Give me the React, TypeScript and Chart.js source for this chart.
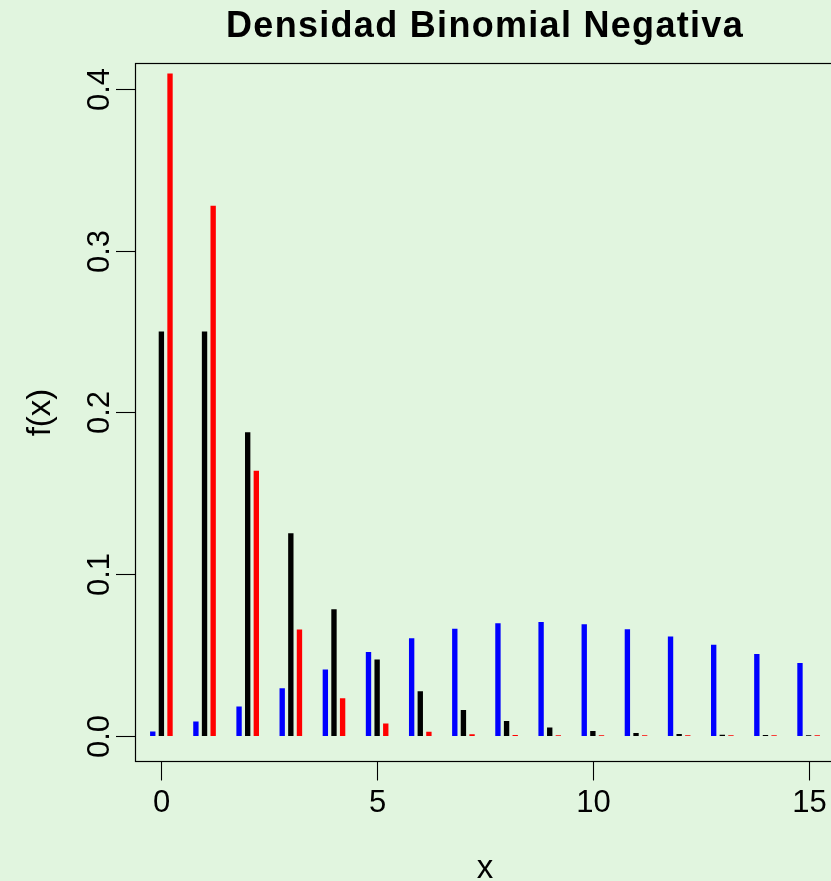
import React, { useEffect, useRef } from "react";
import { Chart, registerables } from "chart.js";

Chart.register(...registerables);

// Negative binomial probabilities f(x) for x = 0..15, three parameter sets
const xValues = [0, 1, 2, 3, 4, 5, 6, 7, 8, 9, 10, 11, 12, 13, 14, 15];
const blueDensity = [
  0.0024, 0.0085, 0.0179, 0.0292, 0.0408, 0.0515, 0.06, 0.066, 0.0693, 0.0701,
  0.0687, 0.0656, 0.0612, 0.056, 0.0504, 0.0447,
];
const blackDensity = [
  0.25, 0.25, 0.1875, 0.125, 0.0781, 0.0469, 0.0273, 0.0156, 0.0088, 0.0049,
  0.0027, 0.0015, 0.0008, 0.0004, 0.0002, 0.0001,
];
const redDensity = [
  0.4096, 0.3277, 0.1638, 0.0655, 0.0229, 0.0073, 0.0022, 0.0006, 0.0002,
  0.00004, 0.00001, 0, 0, 0, 0, 0,
];
const seriesOffsets = [-0.2, 0, 0.2];

const xTicks = [0, 5, 10, 15];
const yTicks = [0, 0.1, 0.2, 0.3, 0.4];
const yTickLabels = ["0.0", "0.1", "0.2", "0.3", "0.4"];

const titleText = "Densidad Binomial Negativa";
const xLabel = "x";
const yLabel = "f(x)";

const BG = "#E1F5DF";
const CANVAS_W = 845;
const CANVAS_H = 881;
const FONT = "'Liberation Sans', Arial, Helvetica, sans-serif";

const toPoints = (vals: number[], off: number) =>
  xValues.map((x, i) => ({ x: x + off, y: vals[i] }));

const framePlugin = {
  id: "rFrame",
  beforeDraw(chart: any) {
    const { ctx } = chart;
    ctx.save();
    ctx.fillStyle = BG;
    ctx.fillRect(0, 0, chart.width, chart.height);
    ctx.restore();
  },
  afterDraw(chart: any) {
    const { ctx, chartArea } = chart;
    const xs = chart.scales.x;
    const ys = chart.scales.y;
    ctx.save();
    ctx.strokeStyle = "#000";
    ctx.fillStyle = "#000";
    ctx.lineWidth = 1.2;
    // plot box
    ctx.strokeRect(
      chartArea.left,
      chartArea.top,
      chartArea.right - chartArea.left,
      chartArea.bottom - chartArea.top
    );
    ctx.lineWidth = 1.1;
    // x axis ticks + labels
    ctx.font = `31px ${FONT}`;
    ctx.textAlign = "center";
    ctx.textBaseline = "alphabetic";
    xTicks.forEach((t) => {
      const px = Math.round(xs.getPixelForValue(t)) + 0.5;
      ctx.beginPath();
      ctx.moveTo(px, chartArea.bottom);
      ctx.lineTo(px, chartArea.bottom + 19);
      ctx.stroke();
      ctx.fillText(String(t), px, 812);
    });
    // y axis ticks + rotated labels
    yTicks.forEach((t, i) => {
      const py = Math.round(ys.getPixelForValue(t)) + 0.5;
      ctx.beginPath();
      ctx.moveTo(chartArea.left, py);
      ctx.lineTo(chartArea.left - 19.5, py);
      ctx.stroke();
      ctx.save();
      ctx.translate(108.5, py);
      ctx.rotate(-Math.PI / 2);
      ctx.fillText(yTickLabels[i], 0, 0);
      ctx.restore();
    });
    // axis titles
    const cx = (chartArea.left + chartArea.right) / 2;
    ctx.font = `33px ${FONT}`;
    ctx.fillText(xLabel, cx, 878);
    ctx.save();
    ctx.translate(50, (chartArea.top + chartArea.bottom) / 2);
    ctx.rotate(-Math.PI / 2);
    ctx.fillText(yLabel, 0, 0);
    ctx.restore();
    // main title
    ctx.font = `bold 36px ${FONT}`;
    (ctx as any).letterSpacing = "1.3px";
    ctx.fillText(titleText, cx, 37);
    ctx.restore();
  },
};

export default function App() {
  const canvasRef = useRef<HTMLCanvasElement | null>(null);

  useEffect(() => {
    const canvas = canvasRef.current;
    if (!canvas) return;
    const bar = { barThickness: 4.7, grouped: false, borderWidth: 0 };
    const chart = new Chart(canvas, {
      type: "bar",
      data: {
        datasets: [
          { data: toPoints(blueDensity, seriesOffsets[0]), backgroundColor: "#0000FF", ...bar },
          { data: toPoints(blackDensity, seriesOffsets[1]), backgroundColor: "#000000", ...bar },
          { data: toPoints(redDensity, seriesOffsets[2]), backgroundColor: "#FF0000", ...bar },
        ] as any,
      },
      options: {
        responsive: false,
        animation: false,
        devicePixelRatio: 1,
        layout: { padding: { left: 135.5, right: 10.5, top: 63.5, bottom: 119.5 } },
        scales: {
          x: { type: "linear", min: -0.6, max: 15.6, offset: false, display: false },
          y: { type: "linear", min: -0.016, max: 0.416, display: false },
        },
        plugins: { legend: { display: false }, tooltip: { enabled: false } },
      },
      plugins: [framePlugin],
    });
    return () => chart.destroy();
  }, []);

  return (
    <div
      style={{
        position: "fixed",
        left: 0,
        top: 0,
        width: 831,
        height: 881,
        overflow: "hidden",
        background: BG,
      }}
    >
      <canvas
        ref={canvasRef}
        width={CANVAS_W}
        height={CANVAS_H}
        style={{ width: CANVAS_W, height: CANVAS_H, display: "block" }}
      />
    </div>
  );
}
